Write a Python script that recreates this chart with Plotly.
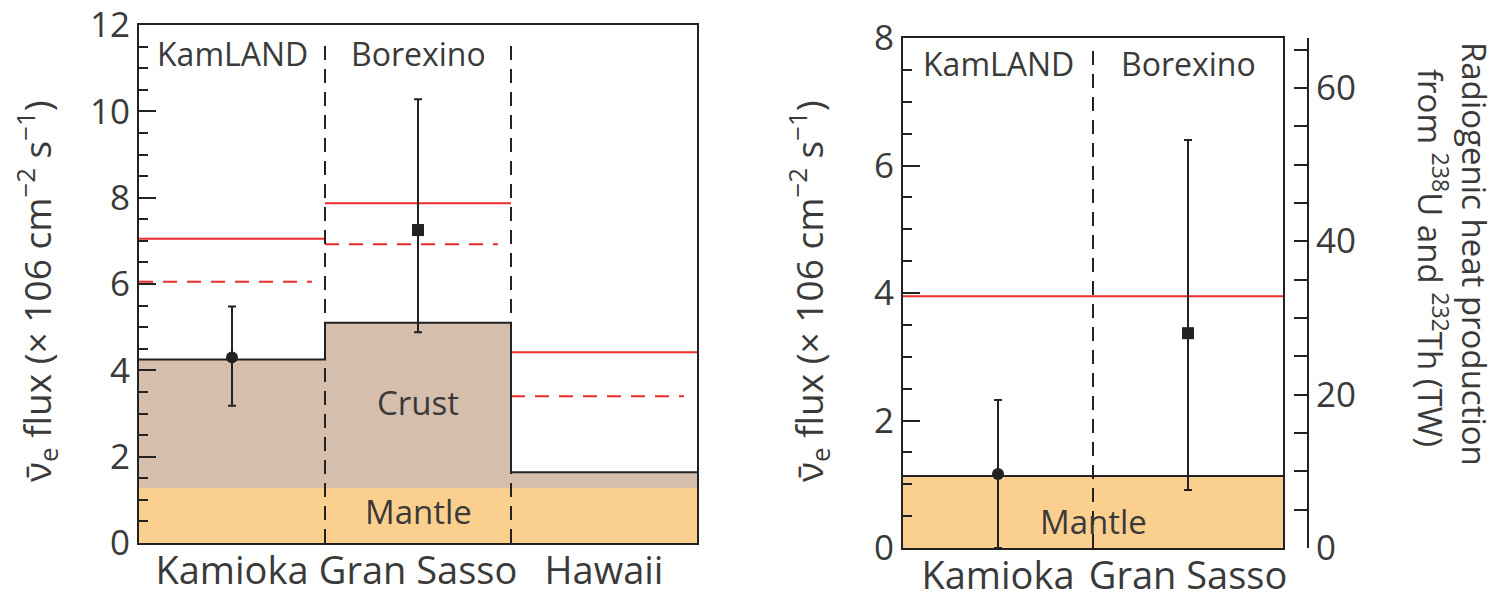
import plotly.graph_objects as go

# ---------------- data ----------------
sites_left = ["Kamioka", "Gran Sasso", "Hawaii"]
experiments_left = ["KamLAND", "Borexino"]
mantle_left = [1.27, 1.27, 1.27]
total_left = [4.25, 5.1, 1.64]          # crust + mantle
model_high_left = [7.05, 7.87, 4.42]    # solid red
model_low_left = [6.05, 6.92, 3.4]      # dashed red
meas_left_y = [4.3, 7.25]
meas_left_up = [5.48, 10.28]
meas_left_lo = [3.18, 4.88]

sites_right = ["Kamioka", "Gran Sasso"]
mantle_right = 1.13
model_right = 3.95
meas_right_y = [1.16, 3.37]
meas_right_up = [2.32, 6.4]
meas_right_lo = [0.0, 0.91]
heat_ticks = [0, 20, 40, 60]
heat_max = 66.5

# ---------------- style ----------------
FONT = "Open Sans"
TXT = "#3a3a3a"
CRUST = "#d5bfac"
MANTLE = "#fbd08f"
RED = "#ee2b2b"
BLK = "#222222"

fig = go.Figure()

n = len(sites_left)
xc = [i + 0.5 for i in range(n)]
crust_h = [t - m for t, m in zip(total_left, mantle_left)]

fig.add_trace(go.Bar(x=xc, y=mantle_left, width=1, marker=dict(color=MANTLE, line=dict(width=0)),
                     xaxis="x", yaxis="y", showlegend=False, hoverinfo="skip"))
fig.add_trace(go.Bar(x=xc, y=crust_h, base=mantle_left, width=1, marker=dict(color=CRUST, line=dict(width=0)),
                     xaxis="x", yaxis="y", showlegend=False, hoverinfo="skip"))

for i in range(n):
    fig.add_trace(go.Scatter(x=[i, i + 1], y=[model_high_left[i]] * 2, mode="lines",
                             line=dict(color=RED, width=2), xaxis="x", yaxis="y",
                             showlegend=False, hoverinfo="skip"))
    fig.add_trace(go.Scatter(x=[i, i + 0.93], y=[model_low_left[i]] * 2, mode="lines",
                             line=dict(color=RED, width=2, dash="14px,10px"), xaxis="x", yaxis="y",
                             showlegend=False, hoverinfo="skip"))

fig.add_trace(go.Scatter(x=list(range(n + 1)), y=total_left + [total_left[-1]], mode="lines",
                         line=dict(color=BLK, width=2, shape="hv"), xaxis="x", yaxis="y",
                         showlegend=False, hoverinfo="skip"))

for i in range(1, n):
    fig.add_trace(go.Scatter(x=[i, i], y=[0, 11.7], mode="lines",
                             line=dict(color=BLK, width=2, dash="14px,9px"), xaxis="x", yaxis="y",
                             showlegend=False, hoverinfo="skip"))

symbols = ["circle", "square"]
for i in range(2):
    fig.add_trace(go.Scatter(x=[xc[i]], y=[meas_left_y[i]], mode="markers",
                             marker=dict(symbol=symbols[i], size=12, color=BLK),
                             error_y=dict(type="data", symmetric=False,
                                          array=[meas_left_up[i] - meas_left_y[i]],
                                          arrayminus=[meas_left_y[i] - meas_left_lo[i]],
                                          color=BLK, thickness=2, width=4),
                             xaxis="x", yaxis="y", showlegend=False, hoverinfo="skip"))

# ---------------- right panel ----------------
m = len(sites_right)
xr = [i + 0.5 for i in range(m)]
fig.add_trace(go.Bar(x=[m / 2], y=[mantle_right], width=m, marker=dict(color=MANTLE, line=dict(width=0)),
                     xaxis="x2", yaxis="y2", showlegend=False, hoverinfo="skip"))
fig.add_trace(go.Scatter(x=[0, m], y=[mantle_right] * 2, mode="lines", line=dict(color=BLK, width=2),
                         xaxis="x2", yaxis="y2", showlegend=False, hoverinfo="skip"))
fig.add_trace(go.Scatter(x=[0, m], y=[model_right] * 2, mode="lines", line=dict(color=RED, width=2),
                         xaxis="x2", yaxis="y2", showlegend=False, hoverinfo="skip"))
for i in range(1, m):
    fig.add_trace(go.Scatter(x=[i, i], y=[0, 7.85], mode="lines",
                             line=dict(color=BLK, width=2, dash="14px,9px"), xaxis="x2", yaxis="y2",
                             showlegend=False, hoverinfo="skip"))
for i in range(m):
    fig.add_trace(go.Scatter(x=[xr[i]], y=[meas_right_y[i]], mode="markers",
                             marker=dict(symbol=symbols[i], size=12, color=BLK),
                             error_y=dict(type="data", symmetric=False,
                                          array=[meas_right_up[i] - meas_right_y[i]],
                                          arrayminus=[meas_right_y[i] - meas_right_lo[i]],
                                          color=BLK, thickness=2, width=4),
                             xaxis="x2", yaxis="y2", showlegend=False, hoverinfo="skip"))
fig.add_trace(go.Scatter(x=[None], y=[None], xaxis="x2", yaxis="y3", showlegend=False, hoverinfo="skip"))

# page body has an 8px margin: size the figure to fit and map window pixels to paper
OFF = 8
W, H = 1497 - OFF, 603 - OFF
def px_x(p): return (p - OFF) / W
def px_y(p): return 1 - (p - OFF) / H

ytick_font = dict(family=FONT, size=35, color=TXT)
xtick_font = dict(family=FONT, size=38, color=TXT)

common = dict(showgrid=False, zeroline=False, automargin=False, ticklabeloverflow="allow")

fig.update_layout(
    width=W, height=H, margin=dict(l=0, r=0, t=0, b=0, autoexpand=False),
    paper_bgcolor="white", plot_bgcolor="white", barmode="overlay", bargap=0,
    font=dict(family=FONT, color=TXT),
    xaxis=dict(domain=[px_x(139), px_x(697)], range=[0, n], tickvals=xc, ticktext=sites_left,
               showline=True, mirror=True, linecolor=BLK, linewidth=2, ticks="",
               tickfont=xtick_font, anchor="y", ticklabelstandoff=-7, **common),
    yaxis=dict(domain=[px_y(543), px_y(25)], range=[0, 12], tickvals=[0, 2, 4, 6, 8, 10, 12],
               showline=True, mirror=True, linecolor=BLK, linewidth=2, ticks="inside", ticklen=17,
               tickwidth=2, tickcolor=BLK, tickfont=ytick_font,
               minor=dict(dtick=0.5, ticks="inside", ticklen=9, tickwidth=2, tickcolor=BLK),
               anchor="x", **common),
    xaxis2=dict(domain=[px_x(903), px_x(1283)], range=[0, m], tickvals=xr, ticktext=sites_right,
                showline=True, mirror=True, linecolor=BLK, linewidth=2, ticks="",
                tickfont=xtick_font, anchor="y2", ticklabelstandoff=-7, **common),
    yaxis2=dict(domain=[px_y(548), px_y(38)], range=[0, 8], tickvals=[0, 2, 4, 6, 8],
                showline=True, mirror=True, linecolor=BLK, linewidth=2, ticks="inside", ticklen=17,
                tickwidth=2, tickcolor=BLK, tickfont=ytick_font,
                minor=dict(dtick=0.5, ticks="inside", ticklen=9, tickwidth=2, tickcolor=BLK),
                anchor="x2", **common),
    yaxis3=dict(domain=[px_y(548), px_y(38)], range=[0, heat_max], tickvals=heat_ticks,
                overlaying="y2", side="right", anchor="free", position=px_x(1308),
                showline=True, linecolor=BLK, linewidth=2, ticks="inside", ticklen=13,
                tickwidth=2, tickcolor=BLK, tickfont=ytick_font,
                minor=dict(dtick=5, ticks="inside", ticklen=13, tickwidth=2, tickcolor=BLK), **common),
)

ann_font = dict(family=FONT, size=32, color=TXT)
big_font = dict(family=FONT, size=33, color=TXT)
ytitle = "ν̄<sub>e</sub> flux (× 106 cm<sup>−2</sup> s<sup>−1</sup>)"
C = dict(showarrow=False, xanchor="center", yanchor="middle")
annotations = [
    dict(x=0.5, y=11.35, xref="x", yref="y", text=experiments_left[0], font=ann_font, **C),
    dict(x=1.5, y=11.35, xref="x", yref="y", text=experiments_left[1], font=ann_font, **C),
    dict(x=1.5, y=3.25, xref="x", yref="y", text="Crust", font=big_font, **C),
    dict(x=1.5, y=0.72, xref="x", yref="y", text="Mantle", font=big_font, **C),
    dict(x=0.5, y=7.6, xref="x2", yref="y2", text=experiments_left[0], font=ann_font, **C),
    dict(x=1.5, y=7.6, xref="x2", yref="y2", text=experiments_left[1], font=ann_font, **C),
    dict(x=1.0, y=0.42, xref="x2", yref="y2", text="Mantle", font=big_font, **C),
    dict(x=px_x(36), y=px_y(291), xref="paper", yref="paper", textangle=-90,
         text=ytitle, font=dict(family=FONT, size=37, color=TXT), **C),
    dict(x=px_x(808), y=px_y(291), xref="paper", yref="paper", textangle=-90,
         text=ytitle, font=dict(family=FONT, size=37, color=TXT), **C),
    dict(x=px_x(1474), y=px_y(254), xref="paper", yref="paper", textangle=90,
         text="Radiogenic heat production", font=dict(family=FONT, size=33, color=TXT), **C),
    dict(x=px_x(1433), y=px_y(258), xref="paper", yref="paper", textangle=90,
         text="from <sup>238</sup>U and <sup>232</sup>Th (TW)", font=dict(family=FONT, size=33, color=TXT), **C),
]
fig.update_layout(annotations=annotations)

fig.write_html("out.html")
